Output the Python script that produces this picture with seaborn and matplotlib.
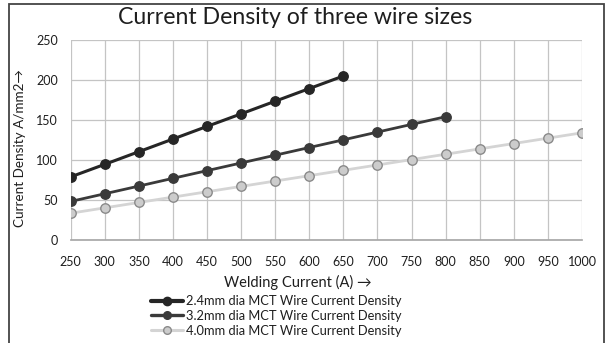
import matplotlib
matplotlib.use("Agg")
import matplotlib.pyplot as plt
import seaborn as sns
import pandas as pd
from matplotlib.patches import Rectangle
from matplotlib.lines import Line2D

current_24 = [250, 300, 350, 400, 450, 500, 550, 600, 650]
density_24 = [78.9, 94.6, 110.4, 126.2, 142.0, 157.7, 173.5, 189.3, 205.0]
current_32 = [250, 300, 350, 400, 450, 500, 550, 600, 650, 700, 750, 800]
density_32 = [48.2, 57.8, 67.4, 77.1, 86.7, 96.3, 106.0, 115.6, 125.2, 134.9, 144.5, 154.1]
current_40 = [250, 300, 350, 400, 450, 500, 550, 600, 650, 700, 750, 800, 850, 900, 950, 1000]
density_40 = [33.5, 40.2, 46.9, 53.6, 60.3, 67.0, 73.7, 80.4, 87.1, 93.8, 100.5, 107.2, 113.9, 120.6, 127.3, 134.0]
labels = ["2.4mm dia MCT Wire Current Density",
          "3.2mm dia MCT Wire Current Density",
          "4.0mm dia MCT Wire Current Density"]
x_ticks = list(range(250, 1001, 50))
y_ticks = [0, 50, 100, 150, 200, 250]

sns.set_theme(style="white")
plt.rcParams['font.family'] = ['Lato', 'DejaVu Sans']

TXT = "#1e1e1e"
W, H = 609, 343
fig = plt.figure(figsize=(W / 100, H / 100), dpi=100)
ax = fig.add_axes([70.7 / W, (H - 240) / H, 511.3 / W, 200 / H])

styles = [
    dict(color="#262626", mfc="#262626", mec="#262626", lw=2.2),
    dict(color="#3a3a3a", mfc="#3a3a3a", mec="#3a3a3a", lw=2.0),
    dict(color="#d4d4d4", mfc="#cccccc", mec="#8a8a8a", lw=2.0),
]
series = [(current_24, density_24), (current_32, density_32), (current_40, density_40)]
for (xs, ys), st, lab in zip(series, styles, labels):
    df = pd.DataFrame({"x": xs, "y": ys})
    sns.lineplot(data=df, x="x", y="y", ax=ax, color=st["color"], lw=st["lw"],
                 marker="o", markersize=6.8, markerfacecolor=st["mfc"],
                 markeredgecolor=st["mec"], markeredgewidth=1.0, zorder=3)

ax.set_xlim(250, 1000)
ax.set_ylim(0, 250)
ax.set_xticks(x_ticks)
ax.set_yticks(y_ticks)
ax.set_xticklabels([str(v) for v in x_ticks], fontsize=9, color=TXT)
ax.set_yticklabels([str(v) for v in y_ticks], fontsize=9, color=TXT)
ax.tick_params(axis="x", length=0, pad=11.5)
ax.tick_params(axis="y", length=0, pad=9)
ax.grid(True, color="#c4c4c4", lw=0.9)
for s in ["top", "right", "left"]:
    ax.spines[s].set_visible(False)
ax.spines["bottom"].set_color("#a8a8a8")
ax.set_xlabel("")
ax.set_ylabel("")

fig.text(298 / W, 1 - 282 / H, "Welding Current (A) →", ha="center", va="center",
         fontsize=10.5, color=TXT)
fig.text(20 / W, 1 - 148 / H, "Current Density A/mm2→", ha="center", va="center",
         rotation=90, fontsize=9.7, color=TXT)
fig.text(295 / W, 1 - 18 / H, "Current Density of three wire sizes", ha="center", va="center",
         fontsize=16.7, color=TXT)

handles = [
    Line2D([0], [0], color="#262626", lw=3.0, marker="o", markersize=6,
           markerfacecolor="#262626", markeredgecolor="#262626"),
    Line2D([0], [0], color="#3a3a3a", lw=2.4, marker="o", markersize=5.5,
           markerfacecolor="#3a3a3a", markeredgecolor="#3a3a3a"),
    Line2D([0], [0], color="#d4d4d4", lw=2.2, marker="o", markersize=5.5,
           markerfacecolor="#cccccc", markeredgecolor="#8a8a8a"),
]
leg = fig.legend(handles, labels, loc="center left", bbox_to_anchor=(151 / W, 1 - 316 / H),
                 frameon=False, fontsize=9.3, handlelength=2.5, handletextpad=0.2,
                 labelspacing=0.22, borderaxespad=0, borderpad=0)
for t in leg.get_texts():
    t.set_color(TXT)

fig.patches.append(Rectangle((8.5 / W, -0.05), (603.5 - 8.5) / W, 1.05 - 4 / H,
                             transform=fig.transFigure, fill=False,
                             edgecolor="#444444", lw=1.3, clip_on=False))

fig.savefig("out.png", dpi=100)
